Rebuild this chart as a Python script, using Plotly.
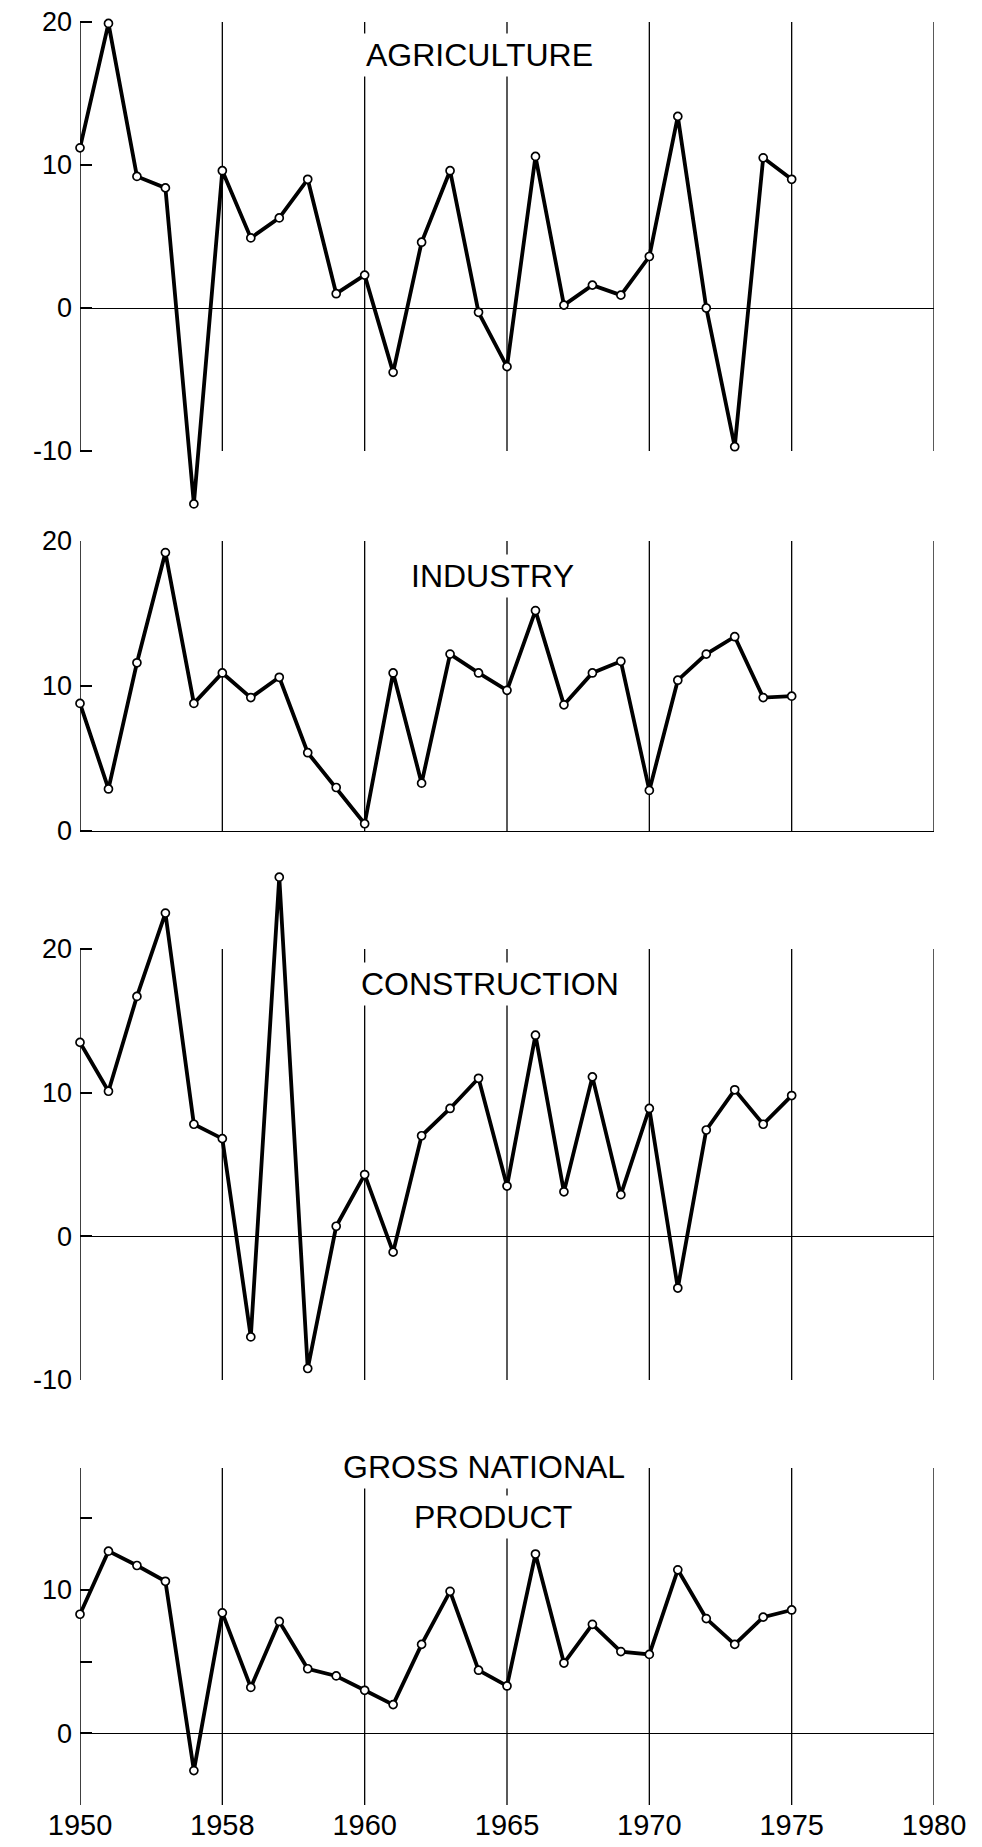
import plotly.graph_objects as go

# ---------------- data (annual growth rates, %) ----------------
years = list(range(1950, 1976))

agriculture = [11.2, 19.9, 9.2, 8.4, -13.7, 9.6, 4.9, 6.3, 9.0, 1.0,
               2.3, -4.5, 4.6, 9.6, -0.3, -4.1, 10.6, 0.2, 1.6, 0.9,
               3.6, 13.4, 0.0, -9.7, 10.5, 9.0]

industry = [8.8, 2.9, 11.6, 19.2, 8.8, 10.9, 9.2, 10.6, 5.4, 3.0,
            0.5, 10.9, 3.3, 12.2, 10.9, 9.7, 15.2, 8.7, 10.9, 11.7,
            2.8, 10.4, 12.2, 13.4, 9.2, 9.3]

construction = [13.5, 10.1, 16.7, 22.5, 7.8, 6.8, -7.0, 25.0, -9.2, 0.7,
                4.3, -1.1, 7.0, 8.9, 11.0, 3.5, 14.0, 3.1, 11.1, 2.9,
                8.9, -3.6, 7.4, 10.2, 7.8, 9.8]

gnp = [8.3, 12.7, 11.7, 10.6, -2.6, 8.4, 3.2, 7.8, 4.5, 4.0,
       3.0, 2.0, 6.2, 9.9, 4.4, 3.3, 12.5, 4.9, 7.6, 5.7,
       5.5, 11.4, 8.0, 6.2, 8.1, 8.6]

x_tick_vals = [1950, 1955, 1960, 1965, 1970, 1975, 1980]
x_tick_text = ["1950", "1958", "1960", "1965", "1970", "1975", "1980"]

titles = ["AGRICULTURE", "INDUSTRY", "CONSTRUCTION", "GROSS NATIONAL", "PRODUCT"]

# ---------------- layout helpers ----------------
OFF = 8                      # page body margin of the browser
W, H = 982 - OFF, 1847 - OFF
PLOT_LEFT, PLOT_RIGHT = 80, 934          # target page px
PLOT_TOP, PLOT_BOTTOM = 8, 1805
M_L = PLOT_LEFT - OFF
M_R = W - (PLOT_RIGHT - OFF)
M_T = PLOT_TOP - OFF
M_B = H - (PLOT_BOTTOM - OFF)
PLOT_H = H - M_T - M_B


def py(px):
    """page pixel (y) -> paper fraction"""
    return 1 - (px - PLOT_TOP) / PLOT_H


FONT = "Liberation Sans, Arial, Helvetica, sans-serif"

# frame: the value range spanned by the axis line / grid, and its page px
panels = [
    dict(data=agriculture, frame=[-10, 20], top=22, bottom=451,
         tickvals=[-10, 0, 10, 20], ticktext=["-10", "0", "10", "20"]),
    dict(data=industry, frame=[0, 20], top=541, bottom=831,
         tickvals=[0, 10, 20], ticktext=["0", "10", "20"]),
    dict(data=construction, frame=[-10, 20], top=949, bottom=1380,
         tickvals=[-10, 0, 10, 20], ticktext=["-10", "0", "10", "20"]),
    dict(data=gnp, frame=[-5, 18.5], top=1468, bottom=1805,
         tickvals=[-5, 0, 5, 10, 15], ticktext=["", "0", "", "10", ""]),
]

fig = go.Figure()
layout = dict(
    width=W, height=H,
    margin=dict(l=M_L, r=M_R, t=M_T, b=M_B, pad=0),
    paper_bgcolor="white", plot_bgcolor="white",
    showlegend=False,
    font=dict(family=FONT, color="black"),
)

shapes = []
n = len(panels)
for i, p in enumerate(panels, start=1):
    xa = "x" if i == 1 else f"x{i}"
    ya = "y" if i == 1 else f"y{i}"

    # extend the axis range (same px per unit) so that values beyond the frame fit
    r0, r1 = p["frame"]
    ppu = (p["bottom"] - p["top"]) / (r1 - r0)
    e0 = min(r0, min(p["data"]) - 0.6)
    e1 = max(r1, max(p["data"]) + 0.5)
    top_e = p["top"] - (e1 - r1) * ppu
    bot_e = p["bottom"] + (r0 - e0) * ppu

    layout["xaxis" if i == 1 else f"xaxis{i}"] = dict(
        domain=[0, 1], range=[1950, 1980], anchor=ya,
        tickvals=x_tick_vals, ticktext=x_tick_text,
        showticklabels=(i == n), ticks="",
        tickfont=dict(size=29, family=FONT, color="black"),
        ticklabeloverflow="allow",
        showgrid=False, zeroline=False, automargin=False,
        showline=False,
    )
    layout["yaxis" if i == 1 else f"yaxis{i}"] = dict(
        domain=[py(bot_e), py(top_e)], range=[e0, e1], anchor=xa,
        tickvals=p["tickvals"], ticktext=p["ticktext"],
        ticks="inside", ticklen=12, tickwidth=1.6, tickcolor="black",
        tickfont=dict(size=27, family=FONT, color="black"),
        ticklabelstandoff=7, ticklabeloverflow="allow", automargin=False,
        showline=False, showgrid=False,
        zeroline=True, zerolinecolor="black", zerolinewidth=1.3,
    )

    # axis line and vertical grid lines, spanning only the frame range
    for xv in x_tick_vals:
        shapes.append(dict(
            type="line", xref=xa, yref=ya, x0=xv, x1=xv, y0=r0, y1=r1,
            line=dict(color="black", width=1.5 if xv == 1950 else 1.3),
            layer="below",
        ))

    fig.add_trace(go.Scatter(
        x=years, y=p["data"], xaxis=xa, yaxis=ya,
        mode="lines+markers",
        line=dict(color="black", width=3.8),
        marker=dict(symbol="circle", size=8, color="white",
                    line=dict(color="black", width=1.7)),
        cliponaxis=False,
    ))

# panel titles (white box interrupts the vertical grid lines)
title_pos = [
    (titles[0], 1964.05, 55),
    (titles[1], 1964.5, 576),
    (titles[2], 1964.4, 984),
    (titles[3], 1964.2, 1467),
    (titles[4], 1964.5, 1517),
]
annotations = []
for text, xv, ypx in title_pos:
    annotations.append(dict(
        text=text, x=xv, xref="x", y=py(ypx), yref="paper",
        xanchor="center", yanchor="middle", showarrow=False,
        font=dict(size=32, family=FONT, color="black"),
        bgcolor="white", borderpad=3,
    ))
layout["annotations"] = annotations
layout["shapes"] = shapes

fig.update_layout(**layout)
fig.write_html("out.html")
